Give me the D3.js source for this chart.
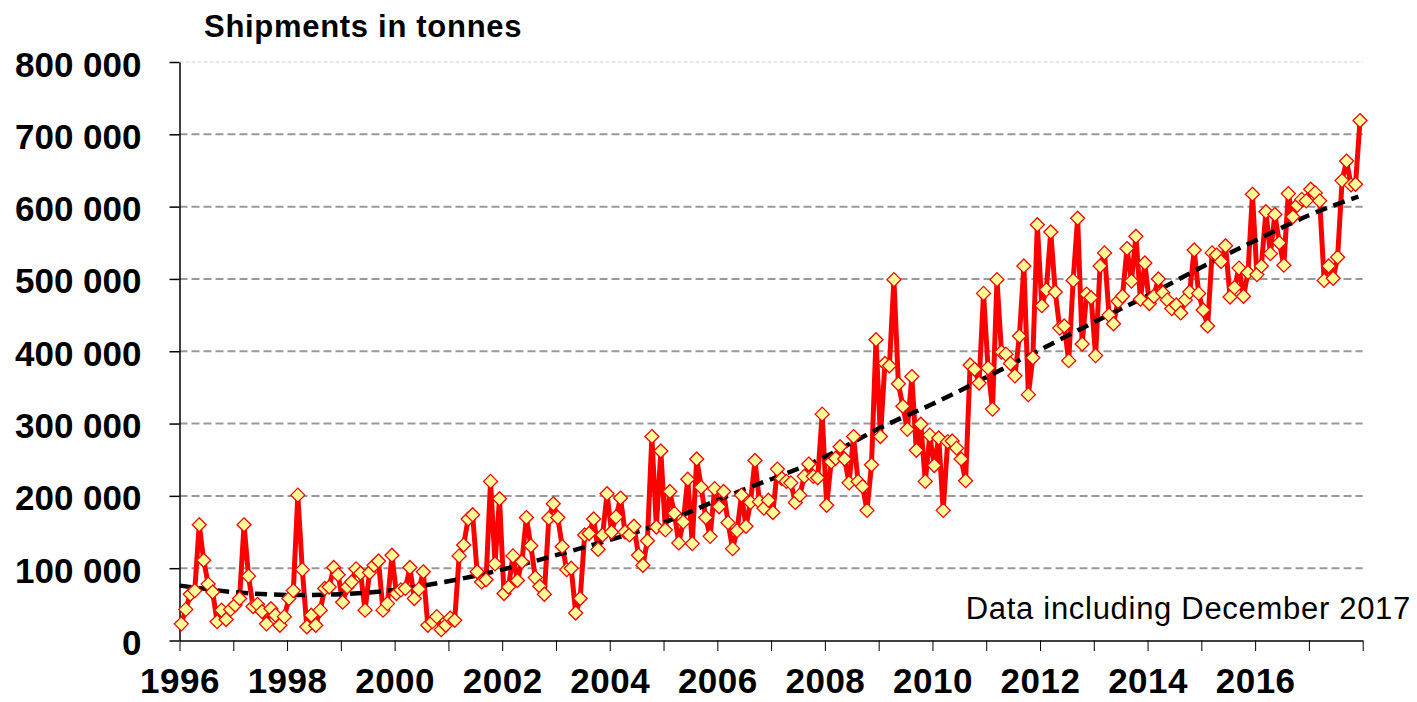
<!DOCTYPE html>
<html>
<head>
<meta charset="utf-8">
<script src="https://cdn.jsdelivr.net/npm/d3@7/dist/d3.min.js"></script>
<style>
  html, body { margin: 0; padding: 0; background: #fff; }
  svg { display: block; }
  text { font-family: "Liberation Sans", Arial, Helvetica, sans-serif; }
</style>
</head>
<body>
<svg id="chart" width="1417" height="702"></svg>
<script>
// ---------------- DATA ----------------
const titleText = "Shipments in tonnes";
const noteText = "Data including December 2017";
const startYear = 1996;           // first month = January 1996
const endYear = 2018;
// Monthly shipments, thousand tonnes, Jan 1996 .. Dec 2017
const shipmentsKt = [
  23, 43, 64, 69, 160, 111, 78, 67, 26, 42, 29, 43,          // 1996
  49, 58, 160, 89, 47, 50, 40, 23, 44, 35, 21, 33,           // 1997
  58, 69, 201, 98, 19, 35, 21, 42, 72, 74, 101, 91,          // 1998
  53, 74, 81, 99, 93, 42, 94, 104, 110, 42, 51, 118,         // 1999
  65, 70, 72, 101, 58, 71, 95, 21, 26, 33, 15, 21,           // 2000
  31, 28, 117, 132, 168, 174, 95, 81, 84, 220, 106, 196,     // 2001
  65, 74, 117, 83, 109, 170, 131, 87, 75, 64, 169, 189,      // 2002
  170, 130, 98, 100, 38, 58, 146, 148, 168, 126, 146, 203,   // 2003
  150, 171, 197, 150, 146, 158, 118, 104, 138, 282, 157, 262,// 2004
  153, 206, 176, 135, 164, 223, 134, 251, 212, 170, 144, 210,// 2005
  185, 206, 163, 127, 152, 201, 158, 191, 249, 192, 183, 194,// 2006
  177, 237, 224, 220, 218, 191, 201, 227, 244, 227, 225, 313,// 2007
  187, 247, 252, 268, 251, 218, 282, 220, 213, 180, 243, 416,// 2008
  282, 383, 380, 499, 355, 324, 292, 365, 263, 299, 220, 284,// 2009
  242, 280, 180, 275, 276, 266, 251, 221, 381, 375, 356, 480,// 2010
  377, 320, 499, 399, 396, 383, 366, 421, 518, 340, 391, 575,// 2011
  463, 485, 565, 482, 432, 435, 387, 498, 584, 410, 479, 474,// 2012
  394, 518, 536, 450, 438, 469, 476, 542, 497, 559, 472, 522,// 2013
  466, 476, 500, 481, 471, 459, 464, 453, 471, 482, 540, 480,// 2014
  457, 435, 536, 533, 524, 546, 475, 488, 515, 476, 509, 617,// 2015
  506, 518, 593, 535, 589, 550, 519, 618, 586, 602, 610, 608,// 2016
  624, 619, 608, 498, 518, 501, 530, 636, 663, 630, 631, 719 // 2017
];
// Trend line (polynomial trend as drawn), read at year positions, thousand tonnes
const trendYears  = [1996, 1997, 1998, 1999, 2000, 2001, 2002, 2003, 2004, 2005, 2006, 2007,
                     2008, 2009, 2010, 2011, 2012, 2013, 2014, 2015, 2016, 2017, 2017.92];
const trendKt     = [76, 67, 63, 64, 70, 82, 98, 118, 139, 163, 194, 223,
                     254, 293, 327, 364, 402, 440, 477, 516, 553, 588, 614];
const yTicks = [0, 100000, 200000, 300000, 400000, 500000, 600000, 700000, 800000];
const yTickLabels = ["0", "100 000", "200 000", "300 000", "400 000", "500 000", "600 000", "700 000", "800 000"];
const xTickYears = d3.range(startYear, endYear + 1);
const xLabelYears = [1996, 1998, 2000, 2002, 2004, 2006, 2008, 2010, 2012, 2014, 2016];

// ---------------- CHART ----------------
(function draw() {
  const svg = d3.select("#chart");
  const plotLeft = 179.5, plotRight = 1362.7, plotTop = 62, plotBottom = 640.5;

  const x = d3.scaleLinear().domain([startYear, endYear]).range([plotLeft, plotRight]);
  const y = d3.scaleLinear().domain([0, 800000]).range([plotBottom, plotTop]);

  const points = shipmentsKt.map((v, i) => ({ t: startYear + (i + 0.4) / 12, v: v * 1000 }));
  const trend = trendYears.map((t, i) => ({ t, v: trendKt[i] * 1000 }));

  // gridlines
  svg.append("g")
    .selectAll("line")
    .data(yTicks.filter(d => d > 0))
    .join("line")
    .attr("x1", plotLeft).attr("x2", plotRight)
    .attr("y1", d => y(d)).attr("y2", d => y(d))
    .attr("stroke", d => d === 800000 ? "#d0d0d0" : "#999")
    .attr("stroke-width", d => d === 800000 ? 1 : 2)
    .attr("stroke-dasharray", d => d === 800000 ? "4,2" : "8,4");

  // y axis
  const yAxis = svg.append("g")
    .attr("transform", `translate(${plotLeft},0)`)
    .call(d3.axisLeft(y).tickValues(yTicks).tickSize(10).tickSizeOuter(0).tickPadding(28)
      .tickFormat((d, i) => yTickLabels[i]));
  yAxis.select(".domain").attr("stroke", "#000").attr("stroke-width", 1.5);
  yAxis.selectAll(".tick line").attr("stroke", "#000").attr("stroke-width", 1.5);
  yAxis.selectAll(".tick text")
    .attr("font-size", 35).attr("font-weight", "bold").attr("fill", "#000")
    .attr("dy", "0.4em")
    .style("font-family", "'Liberation Sans', Arial, sans-serif");

  // x axis
  const xAxis = svg.append("g")
    .attr("transform", `translate(0,${plotBottom})`)
    .call(d3.axisBottom(x).tickValues(xTickYears).tickSize(10.5).tickSizeOuter(0).tickPadding(17)
      .tickFormat(d => xLabelYears.includes(d) ? String(d) : ""));
  xAxis.select(".domain").attr("stroke", "#000").attr("stroke-width", 1.5);
  xAxis.selectAll(".tick line").attr("stroke", "#000").attr("stroke-width", 1);
  xAxis.selectAll(".tick text")
    .attr("font-size", 35).attr("font-weight", "bold").attr("fill", "#000")
    .attr("letter-spacing", 0.5)
    .style("font-family", "'Liberation Sans', Arial, sans-serif");

  // data line
  svg.append("path")
    .datum(points)
    .attr("fill", "none")
    .attr("stroke", "#ff0000")
    .attr("stroke-width", 5)
    .attr("stroke-linejoin", "round")
    .attr("d", d3.line().x(d => x(d.t)).y(d => y(d.v)));

  // trend line
  svg.append("path")
    .datum(trend)
    .attr("fill", "none")
    .attr("stroke", "#000")
    .attr("stroke-width", 4.5)
    .attr("stroke-dasharray", "12,7")
    .attr("d", d3.line().curve(d3.curveNatural).x(d => x(d.t)).y(d => y(d.v)));

  // markers
  svg.append("g")
    .selectAll("path")
    .data(points)
    .join("path")
    .attr("transform", d => `translate(${x(d.t)},${y(d.v)})`)
    .attr("d", "M0,-7L7,0L0,7L-7,0Z")
    .attr("fill", "#ffff99")
    .attr("stroke", "#ff0000")
    .attr("stroke-width", 1.3);

  // title
  svg.append("text")
    .attr("x", 204).attr("y", 37)
    .attr("font-size", 31).attr("font-weight", "bold").attr("fill", "#000")
    .attr("letter-spacing", 0.7)
    .text(titleText);

  // note
  svg.append("text")
    .attr("x", 1411).attr("y", 619)
    .attr("text-anchor", "end")
    .attr("font-size", 31).attr("fill", "#000")
    .attr("letter-spacing", 0.7)
    .text(noteText);
})();
</script>
</body>
</html>
